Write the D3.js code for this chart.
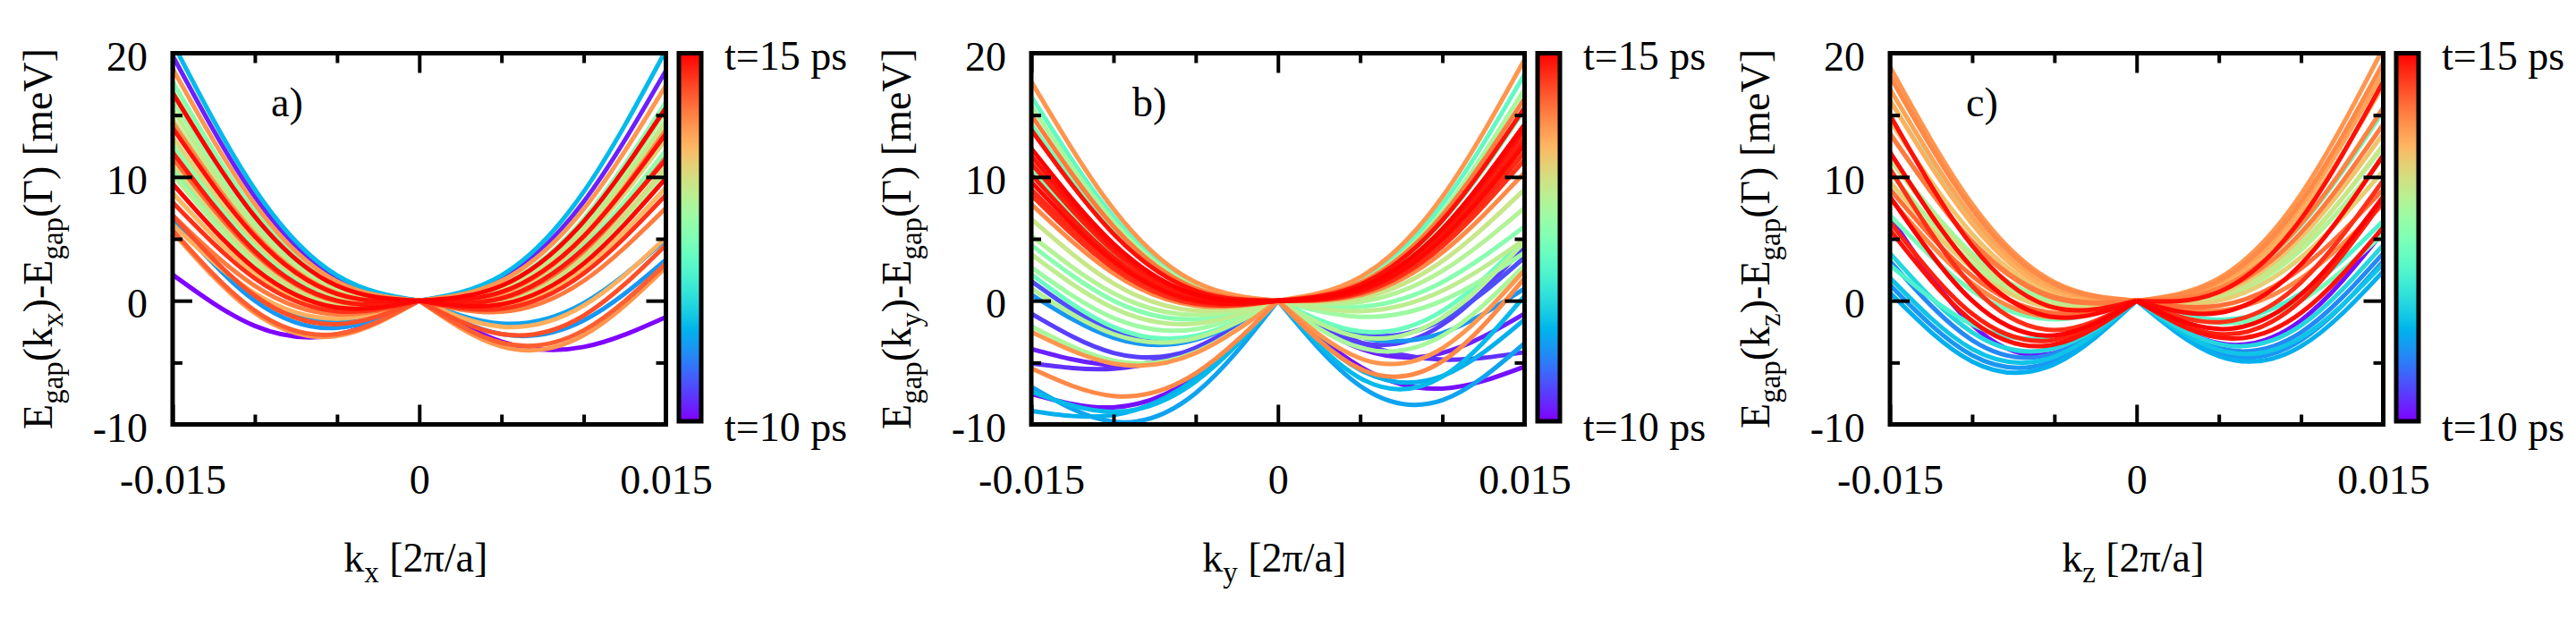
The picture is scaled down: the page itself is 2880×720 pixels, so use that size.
<!DOCTYPE html>
<html>
<head>
<meta charset="utf-8">
<script src="https://cdn.jsdelivr.net/npm/d3@7"></script>
<style>
body{margin:0;background:#fff;}
svg text{font-family:"Liberation Serif","Times New Roman",serif;fill:#000;}
</style>
</head>
<body>
<svg id="chart" width="2880" height="720"></svg>
<script>
var kGrid=[-0.015,-0.01,-0.005,0,0.005,0.01,0.015];

// panel a) -- k_x
var timesA=[11.3,10.2,14.0,12.6,12.9,15.0,13.1,13.2,14.9,13.4,12.7,14.3,10.3,13.0,14.95,
	13.7,14.7,14.2,14.4,14.0,11.0,14.5,10.0,13.8,11.1,12.8,14.85,13.3,12.5,14.1];
var curvesA=[
	[20.85,9.0,2.05,0,2.05,8.8,20.25],
	[19.8,8.4,1.8,0,1.8,8.0,18.6],
	[18.75,7.8,1.55,0,1.6,7.4,17.4],
	[17.7,7.2,1.3,0,1.25,6.6,16.05],
	[16.95,6.8,1.15,0,1.1,6.2,15.3],
	[16.8,6.8,1.2,0,1.2,6.4,15.6],
	[15.45,6.0,0.85,0,0.95,5.8,14.55],
	[14.7,5.6,0.7,0,0.85,5.6,14.25],
	[13.95,5.2,0.55,0,0.7,5.2,13.5],
	[13.2,4.8,0.4,0,0.55,4.9,13.05],
	[12.6,4.4,0.2,0,0.35,4.4,12.15],
	[11.55,3.8,-0.05,0,0.15,4.0,11.55],
	[11.1,3.6,-0.1,0,0.4,4.4,12.0],
	[10.2,3.0,-0.4,0,-0.1,3.4,10.5],
	[9.45,2.6,-0.55,0,-0.3,3.0,9.9],
	[8.7,2.2,-0.7,0,-0.45,2.6,9.15],
	[7.95,1.8,-0.85,0,-0.65,2.2,8.55],
	[6.9,1.2,-1.1,0,-0.9,1.6,7.5],
	[5.7,-0.8,-2.7,0,-3.4,-2.4,3.0],
	[5.55,-1.0,-2.85,0,-3.7,-2.8,2.7],
	[6.6,0.0,-2.2,0,-2.7,-1.6,3.3],
	[6.9,0.4,-1.9,0,-2.7,-1.2,4.5],
	[2.1,-2.04,-2.74,0,-3.3,-3.74,-1.32],
	[6.15,0.6,-1.45,0,-2.1,-0.4,5.1],
	[6.3,0.4,-1.7,0,-1.85,-0.2,4.95],
	[16.2,6.4,1.0,0,1.0,5.8,14.4],
	[12.0,4.0,0.0,0,0.2,4.2,11.4],
	[11.1,3.4,-0.3,0,0.0,3.6,10.8],
	[10.65,3.3,-0.25,0,-0.05,3.5,10.65],
	[14.4,5.4,0.6,0,0.6,5.2,13.8]
];

// panel b) -- k_y
var timesB=[11.1,11.3,11.2,10.1,14.1,10.3,10.2,12.9,10.4,14.0,12.3,13.0,11.0,10.5,
	14.0,12.2,12.9,14.2,12.4,14.9,15.0,14.8,12.5,14.95,14.7,14.1,13.2,13.0,12.6,13.1,12.8,
	14.85,14.9,14.75];
var curvesB=[
	[-6.95,-9.79,-7.47,0,-6.89,-8.04,-3.44],
	[-7.35,-8.98,-6.53,0,-6.26,-6.14,0.38],
	[-8.91,-9.24,-6.27,0,-5.59,-6.09,-1.51],
	[-7.53,-8.62,-6.11,0,-5.33,-7.1,-5.33],
	[-5.47,-7.7,-5.87,0,-5.51,-4.9,1.83],
	[-5.07,-5.5,-3.81,0,-3.37,-4.76,-4.17],
	[-3.9,-5.2,-3.9,0,-3.87,-4.22,-1.05],
	[-2.07,-4.84,-4.15,0,-3.79,-2.84,2.84],
	[-1.05,-4.22,-3.87,0,-3.4,-1.94,4.37],
	[-2.52,-5.08,-4.24,0,-4.66,-3.84,2.47],
	[2.13,-2.13,-2.84,0,-2.48,-0.83,4.96],
	[1.0,-2.7,-3.03,0,-2.95,-1.36,4.76],
	[0.5,-3.0,-3.16,0,-2.94,-2.61,0.98],
	[1.58,-2.46,-2.98,0,-2.72,-1.56,3.5],
	[17.7,7.4,1.5,0,1.9,8.4,19.5],
	[16.5,6.8,1.3,0,1.7,7.8,18.3],
	[15.75,6.4,1.15,0,1.5,7.2,17.1],
	[15.0,6.0,1.0,0,1.45,6.9,16.35],
	[14.25,5.6,0.85,0,1.25,6.4,15.45],
	[13.8,5.4,0.8,0,1.3,6.5,15.6],
	[12.3,4.6,0.5,0,1.05,5.8,14.25],
	[11.1,4.0,0.3,0,0.9,5.3,13.2],
	[10.65,3.8,0.25,0,0.7,4.7,12.0],
	[9.6,3.2,0.0,0,0.8,5.0,12.6],
	[8.55,2.6,-0.25,0,0.6,4.4,11.4],
	[7.8,2.2,-0.4,0,0.45,3.9,10.35],
	[6.6,1.4,-0.8,0,0.2,3.2,9.0],
	[5.25,0.6,-1.15,0,-0.1,2.4,7.5],
	[4.5,0.0,-1.5,0,-0.5,1.5,6.0],
	[3.75,-0.6,-1.85,0,-0.85,0.8,4.95],
	[2.7,-1.4,-2.3,0,-1.3,0.0,3.9],
	[10.2,3.5,0.1,0,0.85,5.1,12.9],
	[11.7,4.3,0.4,0,1.0,5.6,13.8],
	[9.0,2.9,-0.1,0,0.7,4.7,12.0]
];

// panel c) -- k_z
var timesC=[11.2,11.0,11.4,10.9,11.6,10.1,14.9,14.8,15.0,14.7,14.95,14.9,14.0,14.1,13.9,
	12.3,13.6,14.2,13.0,13.5,14.3,14.1,12.4,12.8,12.0,13.8,14.15,13.2];
var curvesC=[
	[0.64,-4.92,-5.13,0,-4.48,-3.69,2.37],
	[1.27,-4.42,-4.84,0,-4.26,-3.19,3.2],
	[1.85,-3.91,-4.53,0,-3.98,-2.98,2.98],
	[3.2,-3.19,-4.26,0,-3.84,-2.56,3.84],
	[3.84,-2.56,-3.84,0,-3.5,-2.0,4.5],
	[6.82,-1.96,-4.23,0,-3.44,-1.59,5.56],
	[5.72,-1.63,-3.54,0,-2.98,-0.99,5.94],
	[6.35,-1.06,-3.17,0,-2.7,0.0,8.1],
	[8.4,0.0,-2.8,0,-2.29,0.51,8.41],
	[10.67,1.19,-2.37,0,-1.74,1.49,9.72],
	[12.0,2.67,-1.33,0,-0.98,2.94,11.76],
	[15.0,4.44,-0.56,0,0.7,6.6,17.7],
	[18.9,7.8,1.5,0,1.8,8.6,20.4],
	[18.15,7.4,1.35,0,1.6,8.0,19.2],
	[17.1,6.8,1.1,0,1.45,7.6,18.45],
	[16.2,6.4,1.0,0,1.0,6.1,15.3],
	[14.55,5.4,0.55,0,0.6,5.1,13.5],
	[13.5,4.8,0.3,0,0.75,5.5,14.25],
	[10.35,3.0,-0.45,0,0.25,4.1,11.55],
	[9.6,2.6,-0.6,0,0.0,3.5,10.5],
	[9.0,2.0,-1.0,0,-0.4,2.6,9.0],
	[8.25,1.4,-1.35,0,-0.8,1.8,7.8],
	[6.9,0.8,-1.5,0,-1.8,0.0,5.4],
	[11.55,3.8,-0.05,0,0.45,4.6,12.45],
	[2.88,-1.92,-2.88,0,-1.55,0.6,6.45],
	[16.2,6.2,0.8,0,1.2,7.0,17.4],
	[13.5,4.7,0.2,0,1.0,6.2,15.6],
	[11.4,3.5,-0.3,0,0.3,4.5,12.6]
];

var xMajor=[-0.015,0,0.015], xMinor=[-0.01,-0.005,0.005,0.01];
var yMajor=[-10,0,10,20], yMinor=[-5,5,15];
var timeRange=[10,15];
var cbLabels=['t=15 ps','t=10 ps'];

var panels=[
	{tag:'a)',axis:'x',times:timesA,curves:curvesA,tagX:303},
	{tag:'b)',axis:'y',times:timesB,curves:curvesB,tagX:306},
	{tag:'c)',axis:'z',times:timesC,curves:curvesC,tagX:278}
];

var panelW=960;
var pLeft=193,pRight=744.5,pTop=59.5,pBottom=474.5;
var cbX=759,cbW=25,cbTop=59.5,cbBottom=471;

// rainbow palette (gnuplot 33,13,10)
function rainbow(x){
	var r=Math.min(1,Math.abs(2*x-0.5)),g=Math.sin(Math.PI*x),b=Math.cos(Math.PI*x/2);
	return d3.rgb(255*r,255*g,255*b).toString();
}
var colorScale=d3.scaleSequential(rainbow).domain(timeRange);

var xScale=d3.scaleLinear().domain([-0.015,0.015]).range([pLeft,pRight]);
var yScale=d3.scaleLinear().domain([-10,20]).range([pBottom,pTop]);
var cbScale=d3.scaleLinear().domain(timeRange).range([cbBottom,cbTop]);

var line=d3.line()
	.x(d=>xScale(d[0]))
	.y(d=>yScale(d[1]))
	.curve(d3.curveNatural);

var svg=d3.select('#chart');
var defs=svg.append('defs');

defs.append('clipPath').attr('id','plotClip')
	.append('rect')
	.attr('x',pLeft).attr('y',pTop)
	.attr('width',pRight-pLeft).attr('height',pBottom-pTop);

var grad=defs.append('linearGradient').attr('id','cbGrad')
	.attr('x1',0).attr('y1',1).attr('x2',0).attr('y2',0);
grad.selectAll('stop')
	.data(d3.range(0,1.0001,0.05))
	.enter().append('stop')
	.attr('offset',d=>d)
	.attr('stop-color',d=>rainbow(d));

function tickAxis(g,axis,values,size,label){
	axis.tickValues(values).tickSize(size).tickFormat(label?(d=>String(d)):'');
	g.call(axis);
	g.select('.domain').remove();
	g.selectAll('.tick line').attr('stroke','#000').attr('stroke-width',4);
	g.selectAll('.tick text').style('font-size','46px').attr('fill','#000')
		.style('font-family','"Liberation Serif","Times New Roman",serif');
}

panels.forEach(function(p,i){
	var g=svg.append('g').attr('transform','translate('+(i*panelW)+',0)');

	// later times drawn on top
	var rows=p.curves.map((row,j)=>({t:p.times[j],pts:kGrid.map((k,n)=>[k,row[n]])}));
	rows.sort((a,b)=>a.t-b.t);

	var plot=g.append('g').attr('clip-path','url(#plotClip)');
	rows.forEach(function(r){
		[r.pts.slice(0,4),r.pts.slice(3)].forEach(function(half){
			plot.append('path')
				.attr('d',line(half))
				.attr('fill','none')
				.attr('stroke',colorScale(r.t))
				.attr('stroke-width',5);
		});
	});

	// ticks on all four sides, pointing inward
	var gb=g.append('g').attr('transform','translate(0,'+pBottom+')');
	tickAxis(gb,d3.axisBottom(xScale),xMajor,-22,true);
	gb.selectAll('.tick text').attr('y',77.5).attr('dy',0);
	tickAxis(g.append('g').attr('transform','translate(0,'+pBottom+')'),d3.axisBottom(xScale),xMinor,-11,false);
	tickAxis(g.append('g').attr('transform','translate(0,'+pTop+')'),d3.axisTop(xScale),xMajor,-22,false);
	tickAxis(g.append('g').attr('transform','translate(0,'+pTop+')'),d3.axisTop(xScale),xMinor,-11,false);

	var gl=g.append('g').attr('transform','translate('+pLeft+',0)');
	tickAxis(gl,d3.axisLeft(yScale),yMajor,-22,true);
	gl.selectAll('.tick text').attr('x',-28).attr('dy',18.5);
	tickAxis(g.append('g').attr('transform','translate('+pLeft+',0)'),d3.axisLeft(yScale),yMinor,-11,false);
	tickAxis(g.append('g').attr('transform','translate('+pRight+',0)'),d3.axisRight(yScale),yMajor,-22,false);
	tickAxis(g.append('g').attr('transform','translate('+pRight+',0)'),d3.axisRight(yScale),yMinor,-11,false);

	g.append('rect')
		.attr('x',pLeft).attr('y',pTop)
		.attr('width',pRight-pLeft).attr('height',pBottom-pTop)
		.attr('fill','none').attr('stroke','#000').attr('stroke-width',5);

	// colour box
	g.append('rect')
		.attr('x',cbX).attr('y',cbScale(timeRange[1]))
		.attr('width',cbW).attr('height',cbScale(timeRange[0])-cbScale(timeRange[1]))
		.attr('fill','url(#cbGrad)').attr('stroke','#000').attr('stroke-width',5);
	g.append('text').attr('x',810).attr('y',cbScale(timeRange[1])+18.5)
		.style('font-size','46px').text(cbLabels[0]);
	g.append('text').attr('x',810).attr('y',cbScale(timeRange[0])+22)
		.style('font-size','46px').text(cbLabels[1]);

	g.append('text').attr('x',p.tagX).attr('y',130)
		.style('font-size','46px').text(p.tag);

	// x label
	var xl=g.append('text').attr('x',(pLeft+pRight)/2-4).attr('y',639)
		.attr('text-anchor','middle').style('font-size','46px');
	xl.append('tspan').text('k');
	xl.append('tspan').attr('dy',12).style('font-size','33px').text(p.axis);
	xl.append('tspan').attr('dy',-12).text(' [2\u03c0/a]');

	// y label
	var yl=g.append('text')
		.attr('transform','translate(58,'+((pTop+pBottom)/2)+') rotate(-90)')
		.attr('text-anchor','middle').style('font-size','46px');
	yl.append('tspan').text('E');
	yl.append('tspan').attr('dy',12).style('font-size','33px').text('gap');
	yl.append('tspan').attr('dy',-12).text('(k');
	yl.append('tspan').attr('dy',12).style('font-size','33px').text(p.axis);
	yl.append('tspan').attr('dy',-12).text(')-E');
	yl.append('tspan').attr('dy',12).style('font-size','33px').text('gap');
	yl.append('tspan').attr('dy',-12).text('(\u0393) [meV]');
});
</script>
</body>
</html>
